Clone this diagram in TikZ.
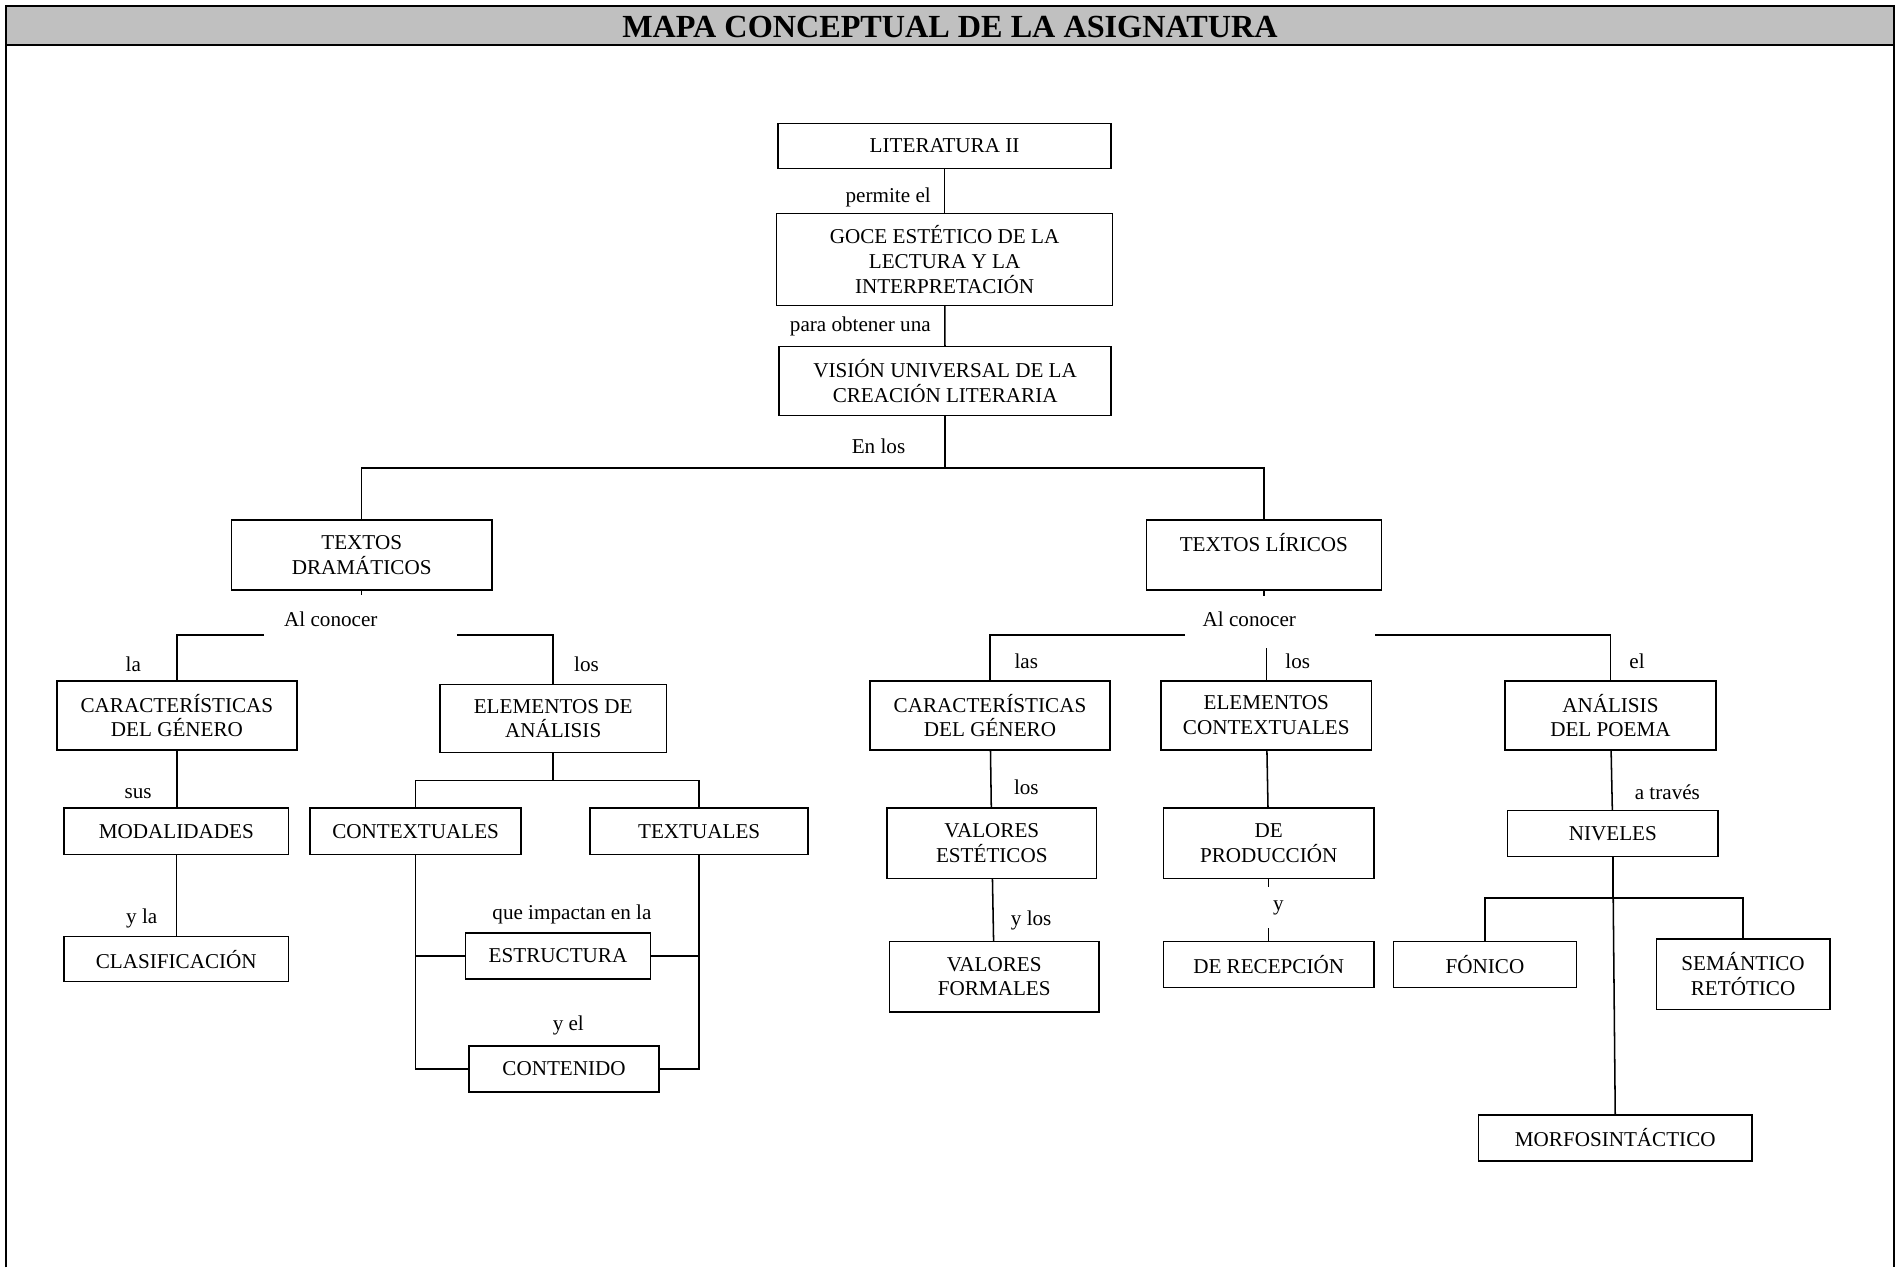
\documentclass[tikz,border=0pt]{standalone}
\usepackage{fontspec}
\setmainfont{Liberation Serif}
\definecolor{cabecera}{RGB}{192,192,192}
\newcommand\Caja[6]{%
    \node[caja, minimum width={(#4-#2)*0.025cm}, minimum height={(#5-#3)*0.025cm}]
        (#1) at ({(#2+#4)/2},{(#3+#5)/2}) {#6};
}
\newcommand\Rotulo[4]{%
    \node[rotulo] (#1) at (#2,#3) {#4};
}

\begin{document}
\begin{tikzpicture}[x=0.025cm, y=-0.025cm,
    caja/.style={draw, line width=0.9pt, align=center, inner sep=0pt, outer sep=0pt,
        font=\fontsize{12.4}{14.6}\selectfont},
    rotulo/.style={inner sep=1pt, font=\fontsize{12.4}{14.6}\selectfont},
    enlace/.style={line width=0.9pt}]
    \useasboundingbox (0,0) rectangle (1568,1046);
    % marco
    \fill[cabecera] (5,5) rectangle (1563,37);
    \draw[line width=1.5pt] (5,1046) -- (5,5) -- (1563,5) -- (1563,1046);
    \draw[line width=1.5pt] (5,37) -- (1563,37);
    \node[font=\bfseries\fontsize{18.9}{21}\selectfont] (titulo) at (784,22) {MAPA CONCEPTUAL DE LA ASIGNATURA};
    % tronco
    \Caja{lit}{642}{102}{917}{139}{LITERATURA II}
    \Caja{goce}{641}{176}{918}{252}{GOCE ESTÉTICO DE LA\\LECTURA Y LA\\INTERPRETACIÓN}
    \Caja{vision}{643}{286}{917}{343}{VISIÓN UNIVERSAL DE LA\\CREACIÓN LITERARIA}
    \Caja{td}{191}{429}{406}{487}{TEXTOS\\DRAMÁTICOS}
    \Caja{tl}{946}{429}{1140}{487}{TEXTOS LÍRICOS\\~}
    \Rotulo{lPermite}{733}{163}{permite el}
    \Rotulo{lObtener}{710}{269}{para obtener una}
    \Rotulo{lEnLos}{725}{368}{En los}
    \coordinate (barra) at (780,386);
    \draw[enlace] (lit) -- (goce);
    \draw[enlace] (goce) -- (vision);
    \draw[enlace] (vision) -- (barra);
    \draw[enlace] (td.north) -- (td.north |- barra) -- (tl.north |- barra) -- (tl.north);
    \begin{scope} % dramaticos
        \Caja{cgA}{47}{562}{245}{619}{CARACTERÍSTICAS\\DEL GÉNERO}
        \Caja{ea}{363}{565}{550}{621}{ELEMENTOS DE\\ANÁLISIS}
        \Caja{mod}{53}{667}{238}{705}{MODALIDADES}
        \Caja{clas}{53}{773}{238}{810}{CLASIFICACIÓN}
        \Caja{cont}{256}{667}{430}{705}{CONTEXTUALES}
        \Caja{text}{487}{667}{667}{705}{TEXTUALES}
        \Caja{est}{384}{770}{537}{808}{ESTRUCTURA}
        \Caja{conten}{387}{863}{544}{901}{CONTENIDO}
        \Rotulo{lConocerA}{273}{511}{Al conocer}
        \Rotulo{lLa}{110}{548}{la}
        \Rotulo{lLosA}{484}{548}{los}
        \Rotulo{lSus}{114}{655}{sus}
        \Rotulo{lYLa}{117}{758}{y la}
        \Rotulo{lImpactan}{472}{755}{que impactan en la}
        \Rotulo{lYEl}{469}{846}{y el}
        \coordinate (dIzq) at (218,524);
        \coordinate (dDer) at (377,524);
        \coordinate (rama) at (457,644);
        \draw[enlace] (td.south) -- ++(0,4);
        \draw[enlace] (dIzq) -- (cgA.north |- dIzq) -- (cgA.north);
        \draw[enlace] (dDer) -- (ea.north |- dDer) -- (ea.north);
        \draw[enlace] (cgA.south) -- (cgA.south |- mod.north);
        \draw[enlace] (mod.south) -- (mod.south |- clas.north);
        \draw[enlace] (ea.south) -- (ea.south |- rama);
        \draw[enlace] (cont.north) |- (rama) -| (text.north);
        \draw[enlace] (cont.south) |- (est.west);
        \draw[enlace] (cont.south) |- (conten.west);
        \draw[enlace] (text.south) |- (est.east);
        \draw[enlace] (text.south) |- (conten.east);
    \end{scope}
    \begin{scope} % liricos
        \Caja{cgB}{718}{562}{916}{619}{CARACTERÍSTICAS\\DEL GÉNERO}
        \Caja{ec}{958}{562}{1132}{619}{ELEMENTOS\\CONTEXTUALES}
        \Caja{ap}{1242}{562}{1416}{619}{ANÁLISIS\\DEL POEMA}
        \Caja{ve}{732}{667}{905}{725}{VALORES\\ESTÉTICOS}
        \Caja{vf}{734}{777}{907}{835}{VALORES\\FORMALES}
        \Caja{dp}{960}{667}{1134}{725}{DE\\PRODUCCIÓN}
        \Caja{dr}{960}{777}{1134}{815}{DE RECEPCIÓN}
        \Caja{niv}{1244}{669}{1418}{707}{NIVELES}
        \Caja{fon}{1150}{777}{1301}{815}{FÓNICO}
        \Caja{sem}{1367}{775}{1510}{833}{SEMÁNTICO\\RETÓTICO}
        \Caja{morf}{1220}{920}{1446}{958}{MORFOSINTÁCTICO}
        \Rotulo{lConocerB}{1031}{511}{Al conocer}
        \Rotulo{lLas}{847}{546}{las}
        \Rotulo{lLosB}{1071}{546}{los}
        \Rotulo{lEl}{1351}{546}{el}
        \Rotulo{lLosC}{847}{650}{los}
        \Rotulo{lYLos}{851}{760}{y los}
        \Rotulo{lTraves}{1376}{654}{a través}
        \coordinate (eIzq) at (978,524);
        \coordinate (eDer) at (1135,524);
        \coordinate (eMed) at (1045,535);
        \coordinate (nRama) at (1331,741);
        \draw[enlace] (tl.south) -- ++(0,5);
        \draw[enlace] (eIzq) -- (cgB.north |- eIzq) -- (cgB.north);
        \draw[enlace] (eDer) -- (ap.north |- eDer) -- (ap.north);
        \draw[enlace] (eMed) -- (ec.north);
        \draw[enlace] (cgB) -- (ve);
        \draw[enlace] (ve) -- (vf);
        \draw[enlace] (ec) -- (dp);
        \draw[enlace] (dp) -- (dr);
        \node[rotulo, fill=white, minimum width=0.5cm, minimum height=0.85cm] (lY) at (1055,749) {y};
        \draw[enlace] (ap) -- (niv);
        \draw[enlace] (niv.south) -- (nRama);
        \draw[enlace] (fon.north) |- (nRama) -| (sem.north);
        \draw[enlace] (niv.south) -- (morf.north);
    \end{scope}
\end{tikzpicture}
\end{document}
